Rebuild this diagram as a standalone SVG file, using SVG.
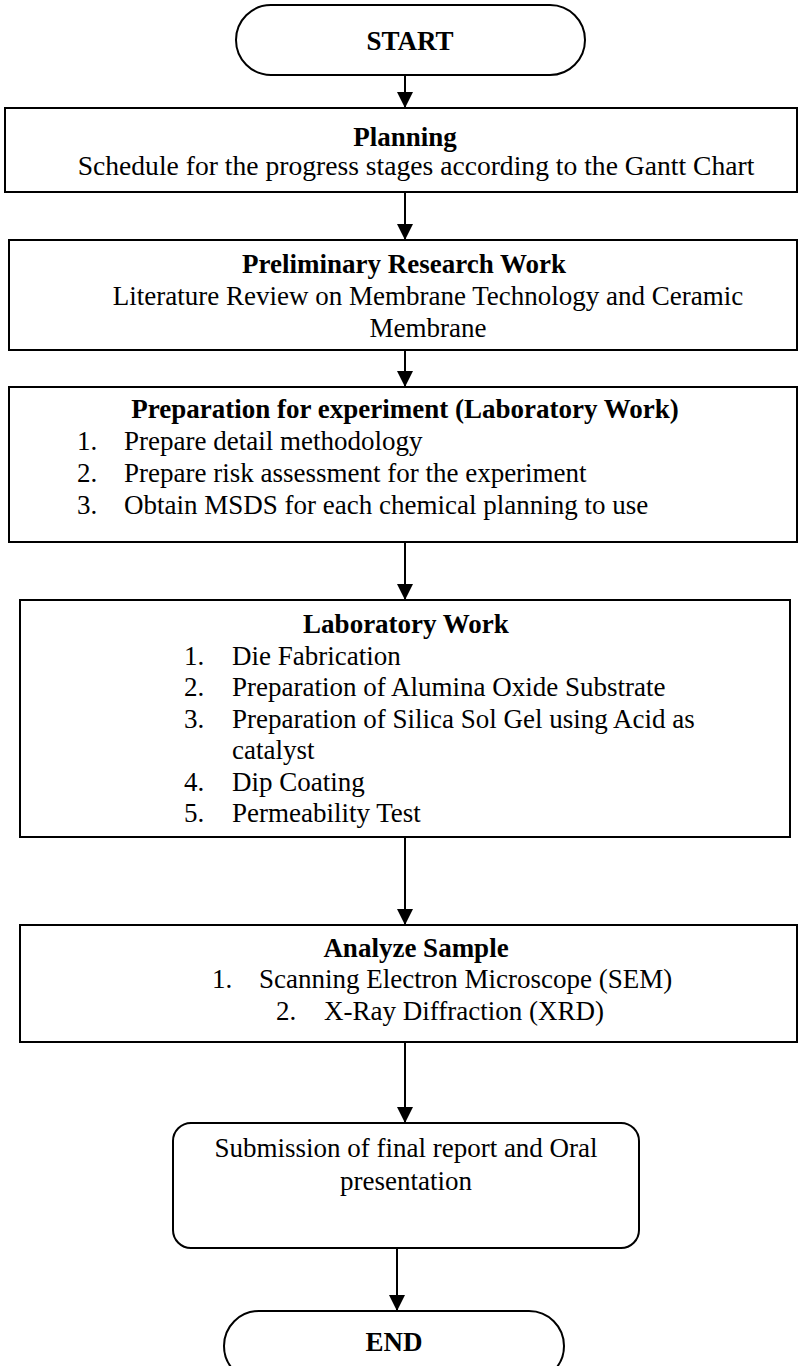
<svg xmlns="http://www.w3.org/2000/svg" width="800" height="1366" viewBox="0 0 800 1366">
<style>
  .box { fill: #ffffff; stroke: #000; stroke-width: 2; }
  .t { font-family: "Liberation Serif", "Times New Roman", serif; font-size: 27px; fill: #000; }
  .b { font-weight: bold; }
  .c { text-anchor: middle; }
  .conn { stroke: #000; stroke-width: 2; fill: none; marker-end: url(#arr); }
</style>
<defs>
  <marker id="arr" markerUnits="userSpaceOnUse" markerWidth="16" markerHeight="16" viewBox="0 0 16 16" refX="16" refY="8" orient="auto">
    <path d="M0,0 L16,8 L0,16 z" fill="#000"/>
  </marker>
</defs>
<rect width="800" height="1366" fill="#ffffff"/>

<g id="start">
  <rect class="box" x="236" y="5" width="349" height="70" rx="35" ry="35"/>
  <text class="t b c" x="410" y="50">START</text>
</g>

<g id="planning">
  <rect class="box" x="5" y="108" width="792" height="84"/>
  <text class="t b c" x="405" y="146">Planning</text>
  <text class="t c" x="416" y="175" style="font-size:27.6px">Schedule for the progress stages according to the Gantt Chart</text>
</g>

<g id="preliminary">
  <rect class="box" x="9" y="240" width="788" height="110"/>
  <text class="t b c" x="404" y="273">Preliminary Research Work</text>
  <text class="t c" x="428" y="305">Literature Review on Membrane Technology and Ceramic</text>
  <text class="t c" x="428" y="337">Membrane</text>
</g>

<g id="preparation">
  <rect class="box" x="9" y="387" width="788" height="155"/>
  <text class="t b c" x="405" y="418">Preparation for experiment (Laboratory Work)</text>
  <text class="t" x="77" y="450">1.</text>
  <text class="t" x="124" y="450">Prepare detail methodology</text>
  <text class="t" x="77" y="482">2.</text>
  <text class="t" x="124" y="482">Prepare risk assessment for the experiment</text>
  <text class="t" x="77" y="514">3.</text>
  <text class="t" x="124" y="514">Obtain MSDS for each chemical planning to use</text>
</g>

<g id="laboratory">
  <rect class="box" x="20" y="600" width="770" height="237"/>
  <text class="t b c" x="406" y="633">Laboratory Work</text>
  <text class="t" x="184" y="665">1.</text>
  <text class="t" x="232" y="665">Die Fabrication</text>
  <text class="t" x="184" y="696">2.</text>
  <text class="t" x="232" y="696">Preparation of Alumina Oxide Substrate</text>
  <text class="t" x="184" y="728">3.</text>
  <text class="t" x="232" y="728">Preparation of Silica Sol Gel using Acid as</text>
  <text class="t" x="232" y="759">catalyst</text>
  <text class="t" x="184" y="791">4.</text>
  <text class="t" x="232" y="791">Dip Coating</text>
  <text class="t" x="184" y="822">5.</text>
  <text class="t" x="232" y="822">Permeability Test</text>
</g>

<g id="analyze">
  <rect class="box" x="20" y="925" width="777" height="117"/>
  <text class="t b c" x="416" y="957">Analyze Sample</text>
  <text class="t" x="212" y="988">1.</text>
  <text class="t" x="259" y="988">Scanning Electron Microscope (SEM)</text>
  <text class="t" x="276" y="1020">2.</text>
  <text class="t" x="324" y="1020">X-Ray Diffraction (XRD)</text>
</g>

<g id="submission">
  <rect class="box" x="173" y="1123" width="466" height="125" rx="18" ry="18"/>
  <text class="t c" x="406" y="1157">Submission of final report and Oral</text>
  <text class="t c" x="406" y="1190">presentation</text>
</g>

<g id="end">
  <rect class="box" x="224" y="1311" width="340" height="70" rx="35" ry="35"/>
  <text class="t b c" x="394" y="1351">END</text>
</g>

<g id="connectors">
  <line class="conn" x1="405" y1="75" x2="405" y2="108"/>
  <line class="conn" x1="405" y1="192" x2="405" y2="240"/>
  <line class="conn" x1="405" y1="350" x2="405" y2="387"/>
  <line class="conn" x1="405" y1="542" x2="405" y2="600"/>
  <line class="conn" x1="405" y1="837" x2="405" y2="925"/>
  <line class="conn" x1="405" y1="1042" x2="405" y2="1123"/>
  <line class="conn" x1="397" y1="1248" x2="397" y2="1311"/>
</g>
</svg>
